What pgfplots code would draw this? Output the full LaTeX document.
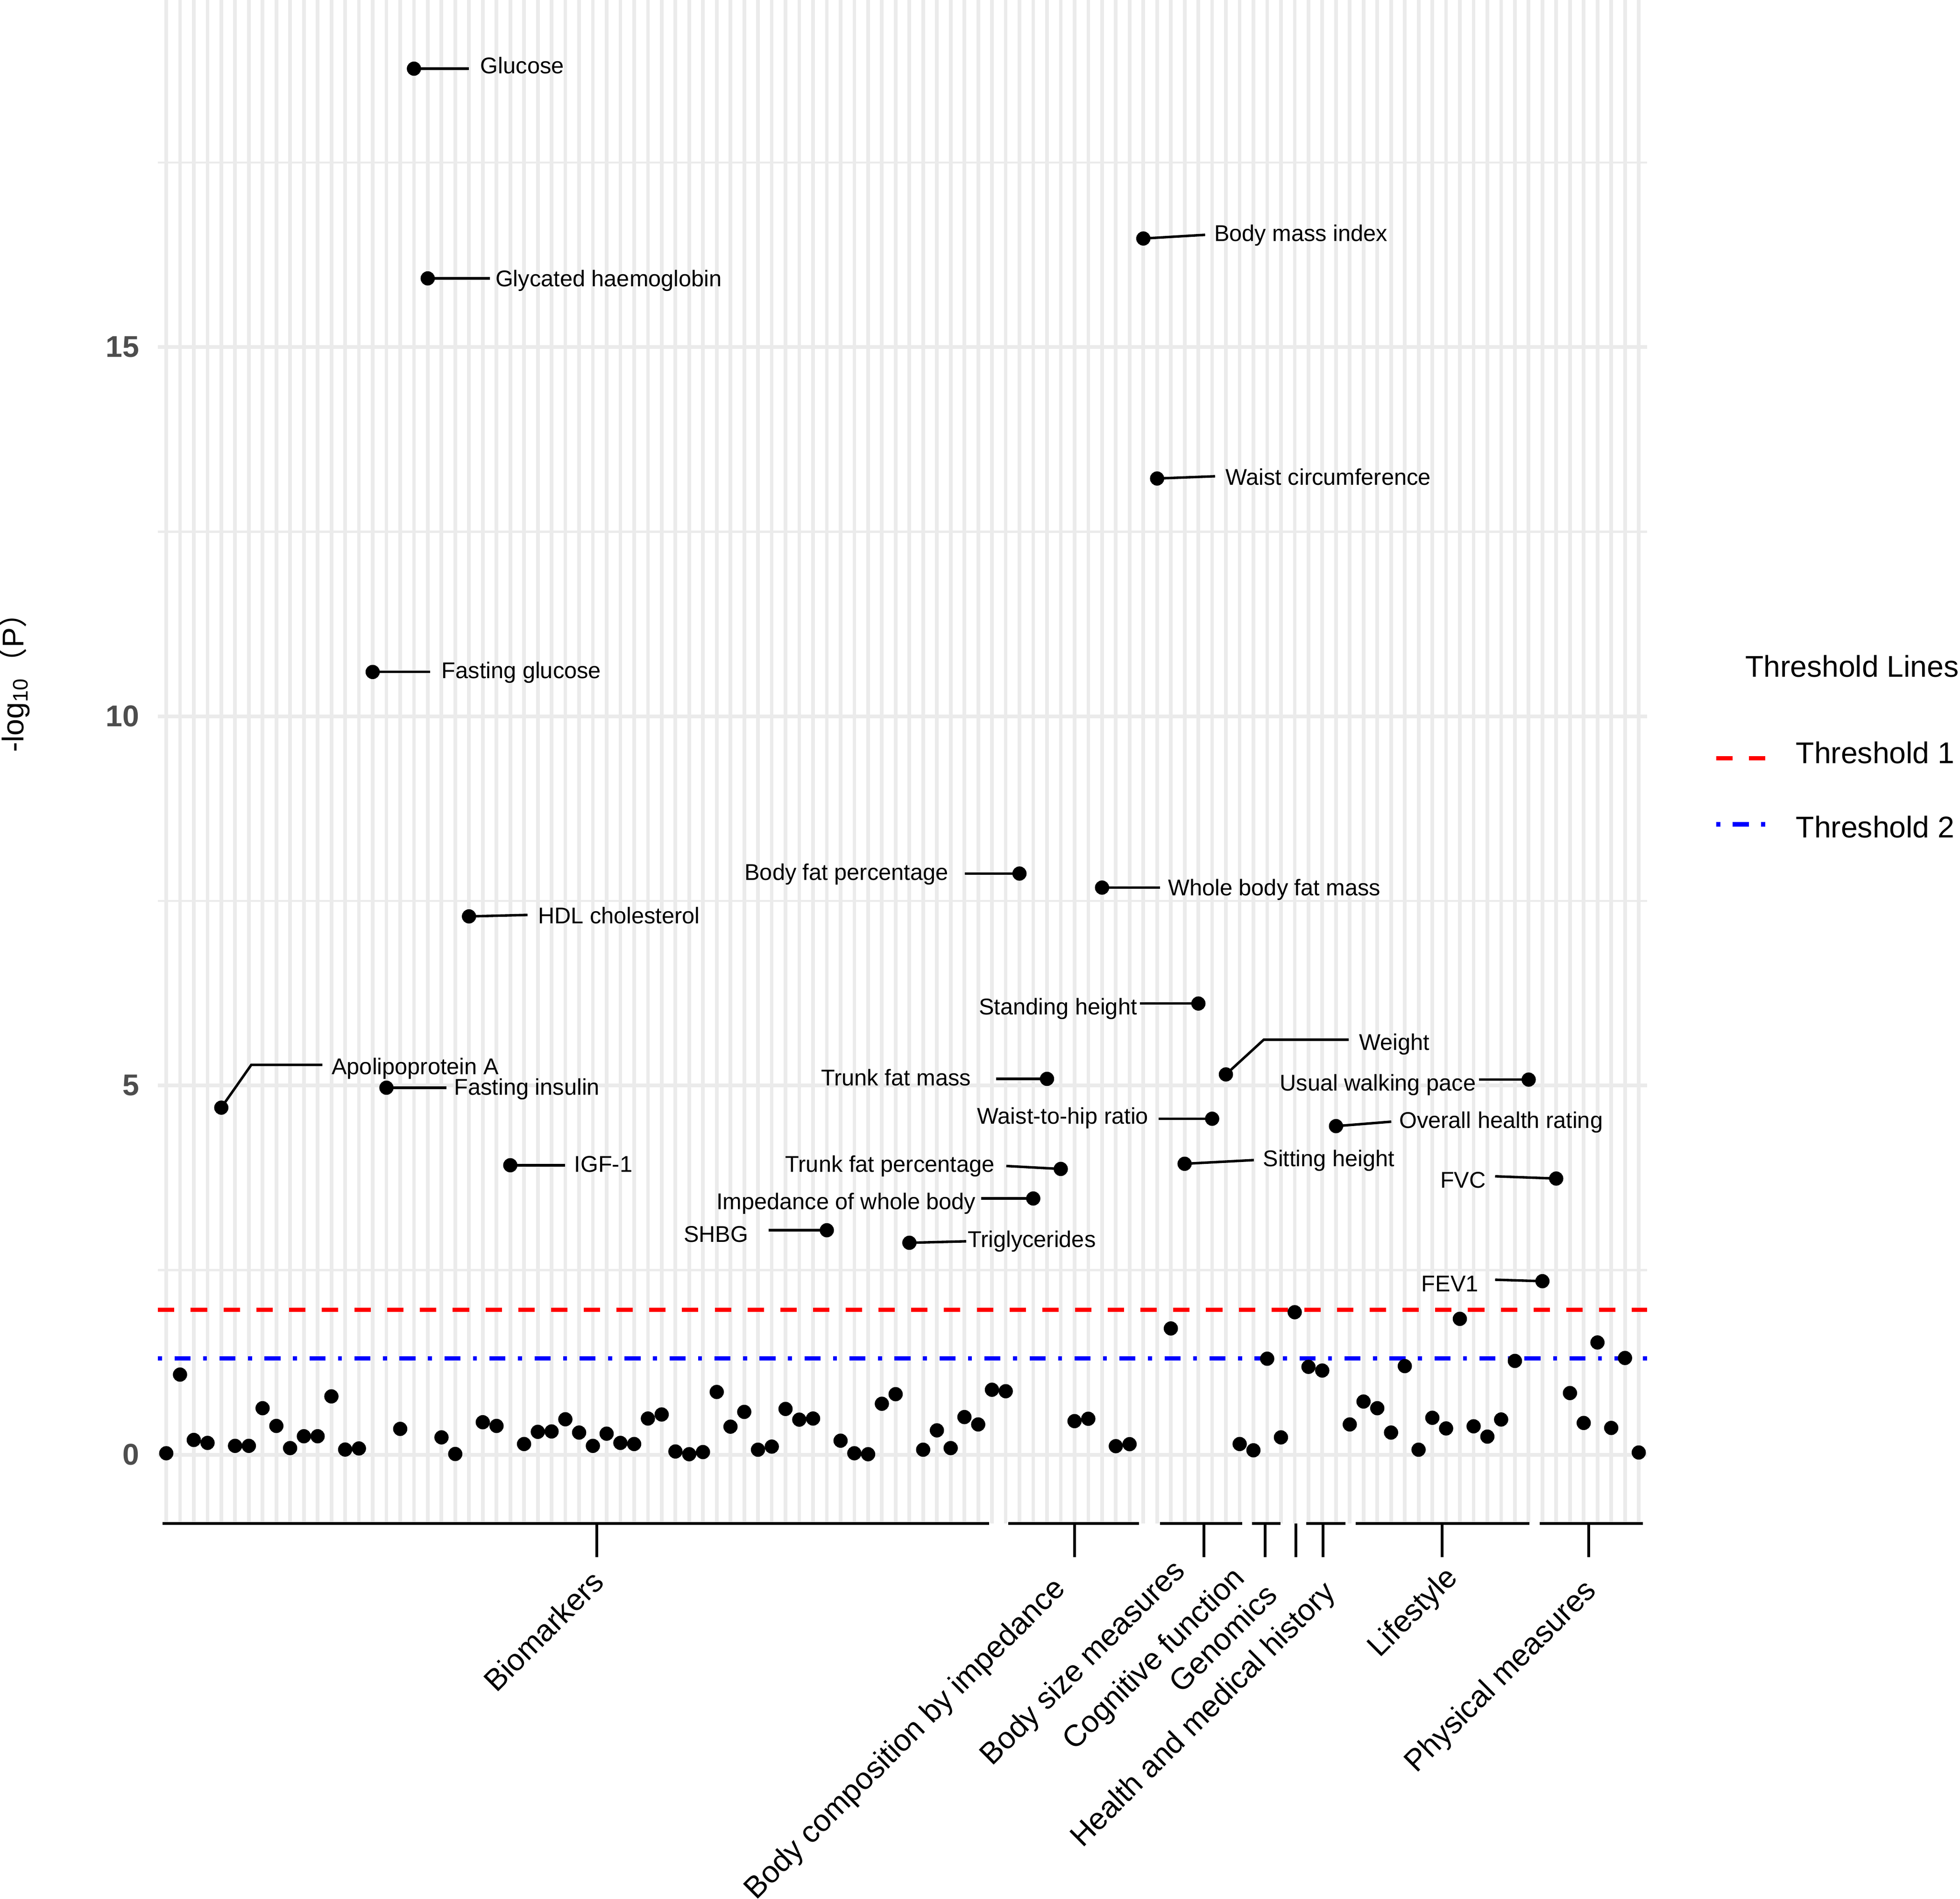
\documentclass[border=0pt]{standalone}
\usepackage{fontspec}
\setmainfont{Liberation Sans}
\newfontfamily\cjk{Noto Sans CJK SC}
\usepackage{pgfplots}
\pgfplotsset{compat=1.18}
\usepackage{pgfplotstable}
\definecolor{grid92}{HTML}{EBEBEB}
\definecolor{gray30}{HTML}{4D4D4D}
\newcommand{\txt}{\fontsize{12bp}{14bp}\selectfont}
\newcommand{\cattxt}{\fontsize{12.2bp}{14bp}\selectfont}
\newcommand{\lab}{\fontsize{9.1bp}{11bp}\selectfont}
\newcommand{\seg}[1]{\addplot[black, line width=1bp, forget plot] coordinates {#1};}
% #1 tick position, #2 label, #3 xshift of label, #4 yshift of label
\newcommand{\cat}[4]{%
  \draw[line width=1.1bp] (axis cs:#1,-0.93) -- ([yshift=-13.4bp]axis cs:#1,-0.93);
  \node[rotate=45, anchor=north east, inner sep=0pt, font=\cattxt] at ([xshift=#3bp, yshift=-15.8bp+#4bp]axis cs:#1,-0.93) {#2};}

\pgfplotstableread{
i y
1 0.02
2 1.085
3 0.20
4 0.16
5 4.70
6 0.12
7 0.12
8 0.63
9 0.39
10 0.09
11 0.25
12 0.25
13 0.79
14 0.07
15 0.085
16 10.60
17 4.97
18 0.35
19 18.77
20 15.93
21 0.235
22 0.01
23 7.29
24 0.44
25 0.39
26 3.92
27 0.145
28 0.31
29 0.315
30 0.48
31 0.30
32 0.12
33 0.285
34 0.16
35 0.145
36 0.49
37 0.545
38 0.044
39 0.007
40 0.036
41 0.85
42 0.38
43 0.58
44 0.068
45 0.11
46 0.62
47 0.475
48 0.49
49 3.04
50 0.19
51 0.02
52 0.007
53 0.69
54 0.82
55 2.87
56 0.068
57 0.33
58 0.09
59 0.51
60 0.41
61 0.88
62 0.86
63 7.87
64 3.47
65 5.09
66 3.87
67 0.455
68 0.487
69 7.68
70 0.116
71 0.143
72 16.47
73 13.22
74 1.71
75 3.94
76 6.11
77 4.55
78 5.15
79 0.145
80 0.06
81 1.30
82 0.235
83 1.93
84 1.19
85 1.14
86 4.45
87 0.41
88 0.72
89 0.63
90 0.30
91 1.20
92 0.068
93 0.50
94 0.356
95 1.84
96 0.385
97 0.245
98 0.477
99 1.27
100 5.08
101 2.35
102 3.74
103 0.835
104 0.43
105 1.52
106 0.363
107 1.31
108 0.03
}\pts

\begin{document}
\begin{tikzpicture}
\begin{axis}[
  at={(0,0)}, anchor=south west,
  scale only axis, width=595.6bp, height=609.3bp,
  xmin=0.4, xmax=108.6, ymin=-0.93, ymax=19.70,
  axis line style={draw=none},
  xtick={1,...,108}, xticklabels={},
  ytick={0,5,10,15}, minor ytick={2.5,7.5,12.5,17.5},
  major tick length=0pt, minor tick length=0pt,
  tick style={draw=none},
  xmajorgrids, ymajorgrids, yminorgrids,
  major grid style={draw=grid92, line width=1.45bp},
  minor grid style={draw=grid92, line width=0.85bp},
  /pgf/number format/assume math mode=true,
  yticklabel style={font=\txt\bfseries, text=gray30, inner sep=0pt, xshift=-7.3bp},
  clip=false,
]
% threshold lines
\addplot[red, line width=1.7bp, dash pattern=on 6.55bp off 6.55bp, forget plot] coordinates {(0.4,1.965) (108.6,1.965)};
\addplot[blue, line width=1.7bp, dash pattern=on 1.6bp off 5bp on 6.4bp off 5bp, forget plot] coordinates {(0.4,1.302) (108.6,1.302)};
% label segments
\seg{(19,18.77) (22.98,18.77)}
\seg{(20,15.93) (24.53,15.93)}
\seg{(16,10.60) (20.17,10.60)}
\seg{(23,7.29) (27.25,7.31)}
\seg{(5,4.70) (7.18,5.28) (12.35,5.28)}
\seg{(17,4.97) (21.35,4.97)}
\seg{(26,3.92) (29.98,3.92)}
\seg{(59.04,7.87) (63,7.87)}
\seg{(69,7.68) (73.21,7.68)}
\seg{(71.76,6.11) (76,6.11)}
\seg{(78,5.15) (80.75,5.62) (86.93,5.62)}
\seg{(96.38,5.08) (100,5.08)}
\seg{(61.31,5.09) (65,5.09)}
\seg{(73.12,4.55) (77,4.55)}
\seg{(86,4.45) (90.02,4.51)}
\seg{(75,3.94) (80.03,3.99)}
\seg{(97.56,3.77) (102,3.74)}
\seg{(62.04,3.91) (66,3.87)}
\seg{(60.22,3.47) (64,3.47)}
\seg{(44.78,3.04) (49,3.04)}
\seg{(55,2.87) (59.13,2.89)}
\seg{(97.56,2.37) (101,2.35)}
\seg{(72,16.47) (76.49,16.52)}
\seg{(73,13.22) (77.21,13.25)}
% points
\addplot[only marks, mark=*, mark size=2.65bp, mark options={draw=none, fill=black}] table[x=i, y=y] {\pts};
% point labels
\begin{scope}[every node/.style={inner sep=0pt, font=\lab}]
\node[anchor=mid west] at (axis cs:23.80,18.79) {Glucose};
\node[anchor=mid west] at (axis cs:24.89,15.91) {Glycated haemoglobin};
\node[anchor=mid west] at (axis cs:20.98,10.60) {Fasting glucose};
\node[anchor=mid west] at (axis cs:27.98,7.28) {HDL cholesterol};
\node[anchor=mid west] at (axis cs:12.99,5.24) {Apolipoprotein A};
\node[anchor=mid west] at (axis cs:21.89,4.96) {Fasting insulin};
\node[anchor=mid west] at (axis cs:30.61,3.92) {IGF-1};
\node[anchor=mid east] at (axis cs:57.86,7.87) {Body fat percentage};
\node[anchor=mid west] at (axis cs:73.76,7.66) {Whole body fat mass};
\node[anchor=mid east] at (axis cs:71.58,6.05) {Standing height};
\node[anchor=mid west] at (axis cs:87.66,5.57) {Weight};
\node[anchor=mid east] at (axis cs:96.20,5.02) {Usual walking pace};
\node[anchor=mid east] at (axis cs:59.50,5.09) {Trunk fat mass};
\node[anchor=mid east] at (axis cs:72.40,4.57) {Waist-to-hip ratio};
\node[anchor=mid west] at (axis cs:90.56,4.51) {Overall health rating};
\node[anchor=mid west] at (axis cs:80.66,3.99) {Sitting height};
\node[anchor=mid east] at (axis cs:96.92,3.70) {FVC};
\node[anchor=mid east] at (axis cs:61.22,3.92) {Trunk fat percentage};
\node[anchor=mid east] at (axis cs:59.86,3.41) {Impedance of whole body};
\node[anchor=mid east] at (axis cs:43.33,2.97) {SHBG};
\node[anchor=mid west] at (axis cs:59.20,2.90) {Triglycerides};
\node[anchor=mid east] at (axis cs:96.38,2.30) {FEV1};
\node[anchor=mid west] at (axis cs:77.12,16.52) {Body mass index};
\node[anchor=mid west] at (axis cs:77.94,13.22) {Waist circumference};
\end{scope}
% category axis
\draw[line width=1.1bp] (axis cs:0.73,-0.93) -- (axis cs:60.8,-0.93);
\draw[line width=1.1bp] (axis cs:62.2,-0.93) -- (axis cs:71.67,-0.93);
\draw[line width=1.1bp] (axis cs:73.2,-0.93) -- (axis cs:79.2,-0.93);
\draw[line width=1.1bp] (axis cs:79.9,-0.93) -- (axis cs:81.96,-0.93);
\draw[line width=1.1bp] (axis cs:83.85,-0.93) -- (axis cs:86.7,-0.93);
\draw[line width=1.1bp] (axis cs:87.44,-0.93) -- (axis cs:100.07,-0.93);
\draw[line width=1.1bp] (axis cs:100.8,-0.93) -- (axis cs:108.3,-0.93);
\cat{32.3}{Biomarkers}{-2.75}{-1.95}
\cat{67.0}{Body composition by impedance}{-9.35}{-4.4}
\cat{76.4}{Body size measures}{-13.25}{2.7}
\cat{80.85}{Cognitive function}{-13.85}{-0.2}
\cat{83.09}{Genomics}{-13.1}{-7.15}
\cat{85.05}{Health and medical history}{-0.75}{-6}
\cat{93.7}{Lifestyle}{0.5}{0}
\cat{104.35}{Physical measures}{-2.6}{-5.3}
\end{axis}
% legend
\draw[red, line width=1.7bp, dash pattern=on 6.55bp off 6.55bp] (623.3bp,306.1bp) -- (643.1bp,306.1bp);
\draw[blue, line width=1.7bp, dash pattern=on 1.6bp off 5bp on 6.4bp off 5bp] (623.3bp,279.6bp) -- (643.1bp,279.6bp);
\node[anchor=base west, inner sep=0pt, font=\txt] at (634.7bp,338.5bp) {Threshold Lines};
\node[anchor=base west, inner sep=0pt, font=\txt] at (655bp,303.9bp) {Threshold 1};
\node[anchor=base west, inner sep=0pt, font=\txt] at (655bp,274.3bp) {Threshold 2};
% y label
\node[rotate=90, anchor=base, inner sep=0pt, font=\txt] at (-53.85bp,339.3bp) {-log\textsubscript{10}{\cjk （}P{\cjk ）}};
\pgfresetboundingbox
\path[use as bounding box] (-63.2bp,-150.2bp) rectangle (720.8bp,609.3bp);
\end{tikzpicture}
\end{document}
